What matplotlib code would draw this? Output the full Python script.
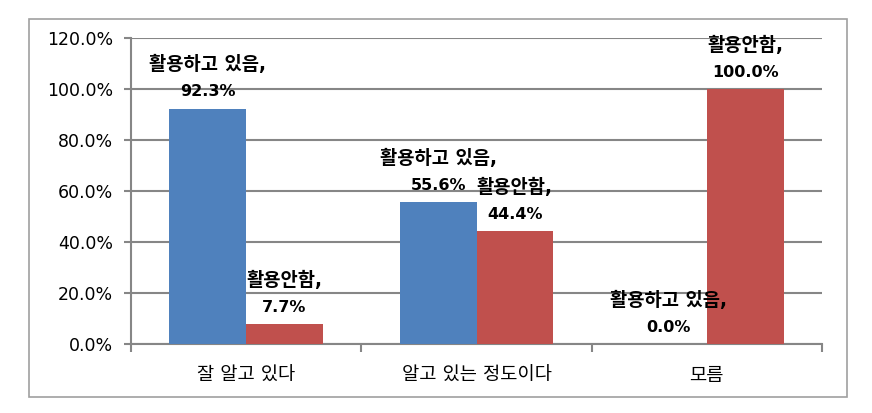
import numpy as np
import matplotlib.pyplot as plt
from matplotlib.patches import Rectangle

plt.rcParams['font.family'] = ['DejaVu Sans', 'Noto Sans CJK KR']

# 데이터
categories = ['잘 알고 있다', '알고 있는 정도이다', '모름']
series_names = ['활용하고 있음', '활용안함']
using = [92.3, 55.6, 0.0]
not_using = [7.7, 44.4, 100.0]
colors = ['#4F81BD', '#C0504D']

fig = plt.figure(figsize=(8.72, 4.13), dpi=100)
ax = fig.add_axes([131 / 872, 1 - 344 / 413, (822 - 131) / 872, (344 - 38) / 413])

# 바깥 테두리
fig.patches.append(Rectangle((29 / 872, 1 - 397 / 413), (847 - 29) / 872, (397 - 19) / 413,
                             transform=fig.transFigure, fill=False,
                             edgecolor='#A0A0A0', linewidth=1.2))

x = np.arange(len(categories))
w = 1 / 3
bars1 = ax.bar(x - w / 2, using, w, color=colors[0], zorder=3)
bars2 = ax.bar(x + w / 2, not_using, w, color=colors[1], zorder=3)

for bars, name, vals in [(bars1, series_names[0], using), (bars2, series_names[1], not_using)]:
    for b, v in zip(bars, vals):
        cx = b.get_x() + b.get_width() / 2
        ax.annotate(f'{v:.1f}%', (cx, v), xytext=(0, 12), textcoords='offset points',
                    ha='center', va='center', fontsize=11.5, fontweight='bold', zorder=5)
        ax.annotate(f'{name},', (cx, v), xytext=(0, 31.5), textcoords='offset points',
                    ha='center', va='center', fontsize=13.5, fontweight='bold', zorder=5)

ax.set_xlim(-0.5, 2.5)
ax.set_ylim(0, 120)
ax.set_yticks(np.arange(0, 121, 20))
ax.set_yticklabels([f'{t:.1f}%' for t in np.arange(0, 121, 20)], fontsize=12.5)
ax.set_xticks(x)
ax.set_xticklabels(categories, fontsize=13.5)
ax.set_xticks([-0.5, 0.5, 1.5, 2.5], minor=True)
ax.tick_params(axis='x', which='major', length=0, pad=16)
ax.tick_params(axis='x', which='minor', length=6, color='#868686', width=1.5)
ax.tick_params(axis='y', length=5, color='#868686', width=1.5, pad=8)

ax.grid(axis='y', color='#868686', linewidth=1.5, zorder=0)
for s in ['top', 'right']:
    ax.spines[s].set_visible(False)
for s in ['left', 'bottom']:
    ax.spines[s].set_color('#868686')
    ax.spines[s].set_linewidth(1.5)

fig.savefig('out.png', dpi=100)
